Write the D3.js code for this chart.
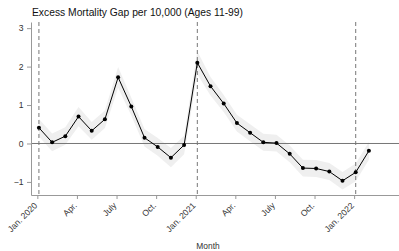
<!DOCTYPE html>
<html>
<head>
<meta charset="utf-8">
<script src="https://cdn.jsdelivr.net/npm/d3@7"></script>
<style>
  body { margin: 0; background: #fff; }
  svg { display: block; font-family: "Liberation Sans", Arial, sans-serif; }
  .axis path, .axis line { stroke: #999; }
  .axis text { fill: #333; font-size: 8.6px; }
</style>
</head>
<body>
<script>
// monthly estimates, Jan 2020 .. Feb 2022
const gap = [0.41, 0.03, 0.19, 0.70, 0.33, 0.63, 1.72, 0.96, 0.15, -0.09, -0.37, -0.04,
             2.10, 1.49, 1.04, 0.53, 0.28, 0.03, 0.01, -0.27, -0.64, -0.65, -0.73, -0.97,
             -0.75, -0.19];
const ciLow = [0.18, -0.20, -0.03, 0.45, 0.10, 0.40, 1.45, 0.73, -0.08, -0.32, -0.62, -0.28,
               1.80, 1.25, 0.82, 0.31, 0.06, -0.19, -0.21, -0.49, -0.86, -0.87, -0.95, -1.20,
               -0.98, -0.42];
const ciHigh = [0.64, 0.26, 0.42, 0.95, 0.56, 0.86, 1.99, 1.19, 0.38, 0.14, -0.12, 0.20,
                2.40, 1.73, 1.26, 0.75, 0.50, 0.25, 0.23, -0.05, -0.42, -0.43, -0.51, -0.74,
                -0.52, 0.04];
const tickMonths = [0, 3, 6, 9, 12, 15, 18, 21, 24];
const tickLabels = ['Jan. 2020', 'Apr.', 'July', 'Oct.', 'Jan. 2021', 'Apr.', 'July', 'Oct.', 'Jan. 2022'];
const yTicks = [-1, 0, 1, 2, 3];
const markers = [0, 12, 24];

const width = 399;
const height = 251;
const plotLeft = 31, plotRight = 399, plotTop = 22, plotBottom = 195;
const offset = 0.12;

const svg = d3.select('body').append('svg')
  .attr('width', width)
  .attr('height', height);

const x = d3.scaleLinear().domain([-0.48, 27.4]).range([plotLeft, plotRight]);
const y = d3.scaleLinear().domain([-1.34, 3.16]).range([plotBottom, plotTop]);

const data = gap.map((v, i) => ({ m: i + offset, v: v, lo: ciLow[i], hi: ciHigh[i] }));

svg.append('text')
  .attr('x', 32).attr('y', 16)
  .attr('font-size', 10.3).attr('fill', '#111')
  .text('Excess Mortality Gap per 10,000 (Ages 11-99)');

// confidence band
const band = d3.area()
  .x(d => x(d.m))
  .y0(d => y(d.lo))
  .y1(d => y(d.hi));

svg.append('path')
  .datum(data)
  .attr('fill', '#efefef')
  .attr('d', band);

// zero line
svg.append('line')
  .attr('x1', plotLeft).attr('x2', plotRight)
  .attr('y1', y(0)).attr('y2', y(0))
  .attr('stroke', '#777').attr('stroke-width', 1);

// dashed January markers
svg.selectAll('.marker')
  .data(markers)
  .enter().append('line')
  .attr('class', 'marker')
  .attr('x1', d => x(d + offset)).attr('x2', d => x(d + offset))
  .attr('y1', plotTop).attr('y2', plotBottom)
  .attr('stroke', '#777')
  .attr('stroke-dasharray', '4,3');

const line = d3.line()
  .x(d => x(d.m))
  .y(d => y(d.v));

svg.append('path')
  .datum(data)
  .attr('fill', 'none')
  .attr('stroke', '#000')
  .attr('stroke-width', 1)
  .attr('d', line);

svg.selectAll('.dot')
  .data(data)
  .enter().append('circle')
  .attr('class', 'dot')
  .attr('cx', d => x(d.m))
  .attr('cy', d => y(d.v))
  .attr('r', 2)
  .attr('fill', '#000');

const yAxis = d3.axisLeft(y)
  .tickValues(yTicks)
  .tickFormat(d3.format('d'))
  .tickSize(4).tickSizeOuter(0).tickPadding(3.5);
svg.append('g')
  .attr('class', 'axis')
  .attr('transform', `translate(${plotLeft}, 0)`)
  .call(yAxis);

const xAxis = d3.axisBottom(x)
  .tickValues(tickMonths)
  .tickFormat((d, i) => tickLabels[i])
  .tickSize(4).tickSizeOuter(0);

const gx = svg.append('g')
  .attr('class', 'axis')
  .attr('transform', `translate(0, ${plotBottom})`)
  .call(xAxis);

gx.selectAll('text')
  .attr('text-anchor', 'end')
  .attr('dy', null)
  .attr('y', 0)
  .attr('transform', 'translate(0, 11) rotate(-45)');

svg.append('text')
  .attr('x', 208).attr('y', 249)
  .attr('text-anchor', 'middle')
  .attr('font-size', 8.4).attr('fill', '#333')
  .text('Month');
</script>
</body>
</html>
